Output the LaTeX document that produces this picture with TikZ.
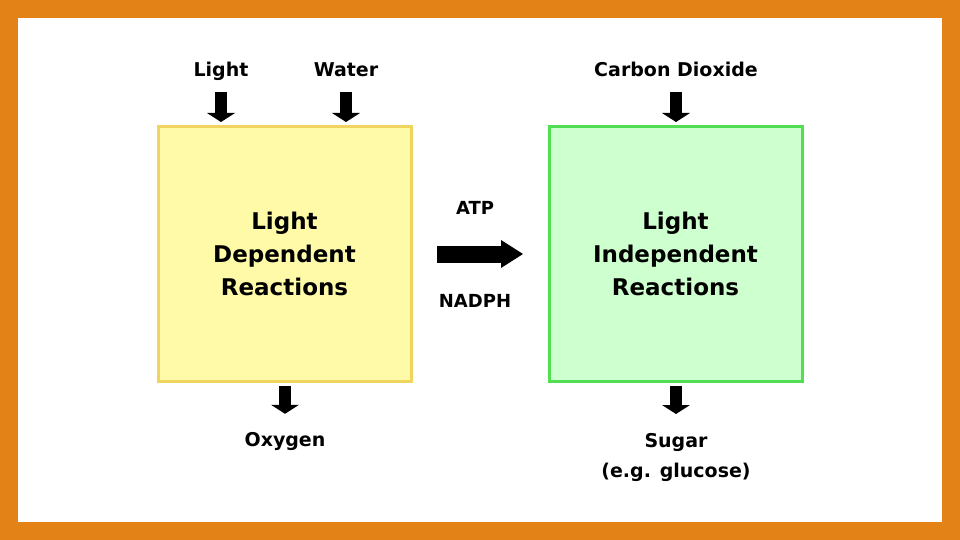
\documentclass[tikz,border=0pt]{standalone}
\usepackage{fontspec}
\setmainfont{DejaVu Sans}
\usepackage{xcolor}
\usetikzlibrary{arrows.meta, positioning, calc}

\definecolor{frameorange}{RGB}{227,130,22}
\definecolor{ldfill}{RGB}{255,250,168}
\definecolor{lddraw}{RGB}{240,212,96}
\definecolor{lifill}{RGB}{206,255,206}
\definecolor{lidraw}{RGB}{82,222,82}

\begin{document}
\begin{tikzpicture}[
  x=1pt, y=-1pt,
  stage/.style={rectangle, line width=3pt, minimum width=253pt, minimum height=254pt,
                inner sep=0pt, align=center, font=\fontsize{23}{33}\selectfont\bfseries},
  flowtext/.style={font=\fontsize{19}{30}\selectfont\bfseries, inner sep=2pt, align=center},
  flow/.style={flowtext, text height=15pt, text depth=5pt, anchor=base},
  carrier/.style={font=\fontsize{18}{22}\selectfont\bfseries, inner sep=2pt, anchor=base},
  fatarrow/.style={line width=12pt, -{Triangle[width=28pt, length=9pt, line width=0pt]}}
]

% ── Frame ──
\fill[frameorange] (0,0) rectangle (960,540);
\fill[white] (18,18) rectangle (942,522);

% ── Reaction boxes ──
\node[stage, draw=lddraw, fill=ldfill] (ldr) at (284.5,254) {Light\\Dependent\\Reactions};
\node[stage, draw=lidraw, fill=lifill] (lir) at (675.5,254) {Light\\Independent\\Reactions};

% ── Inputs and outputs ──
\node[flow] (light) at (221,77)  {Light};
\node[flow] (water) at (346,77)  {Water};
\node[flow] (co2)   at (676,77)  {Carbon Dioxide};
\node[flow] (oxy)   at (285,446) {Oxygen};
\node[flowtext, anchor=north] (sugar) at (676,431) {Sugar\\(e.g. glucose)};

\draw[fatarrow, shorten <=8pt, shorten >=3.5pt] (light.south) -- (light.south |- ldr.north);
\draw[fatarrow, shorten <=8pt, shorten >=3.5pt] (water.south) -- (water.south |- ldr.north);
\draw[fatarrow, shorten <=8pt, shorten >=3.5pt] (co2.south)   -- (co2.south |- lir.north);
\draw[fatarrow, shorten <=3.5pt, shorten >=15pt] (oxy.north |- ldr.south)   -- (oxy.north);
\draw[fatarrow, shorten <=3.5pt, shorten >=17pt] (sugar.north |- lir.south) -- (sugar.north);

% ── Energy carriers ──
\node[carrier] (atp)   at (475,214) {ATP};
\node[carrier] (nadph) at (475,307) {NADPH};
\draw[line width=17pt, -{Triangle[width=28pt, length=22pt, line width=0pt]},
      shorten <=24.5pt, shorten >=24.5pt] (ldr.east) -- (lir.west);
\end{tikzpicture}
\end{document}
